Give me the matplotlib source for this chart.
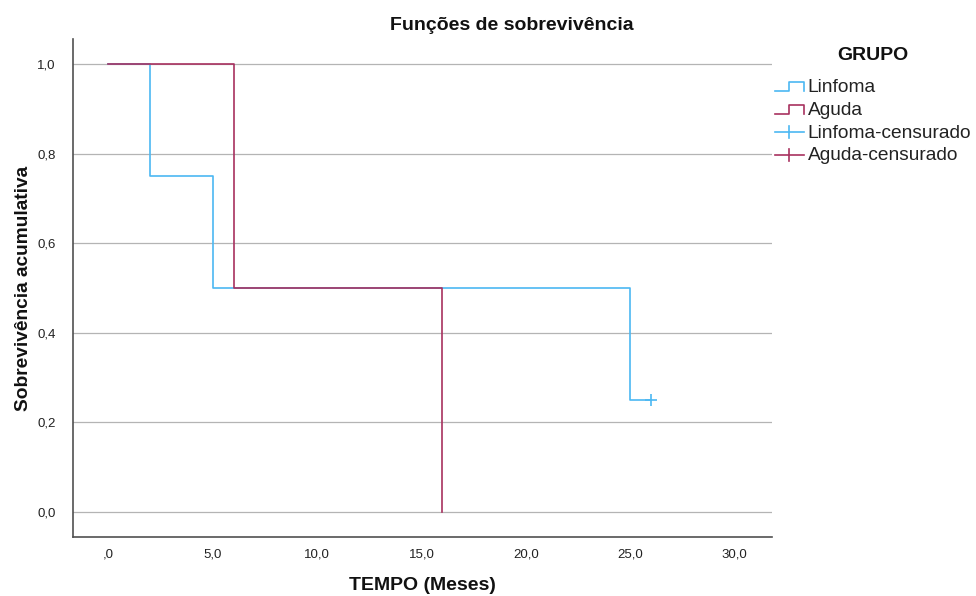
import matplotlib
matplotlib.use("Agg")
import matplotlib.pyplot as plt
from matplotlib.lines import Line2D
from matplotlib.legend_handler import HandlerBase

plt.rcParams['font.family'] = ['Liberation Sans', 'DejaVu Sans']

# Data (Kaplan-Meier steps)
linfoma_t = [0, 2, 5, 25, 26]
linfoma_s = [1.0, 0.75, 0.5, 0.25, 0.25]
linfoma_cens_t = [26]
linfoma_cens_s = [0.25]

aguda_t = [0, 6, 16, 16]
aguda_s = [1.0, 0.5, 0.0, 0.0]

xticks = [0, 5, 10, 15, 20, 25, 30]
xticklabels = [',0', '5,0', '10,0', '15,0', '20,0', '25,0', '30,0']
yticks = [0.0, 0.2, 0.4, 0.6, 0.8, 1.0]
yticklabels = ['0,0', '0,2', '0,4', '0,6', '0,8', '1,0']

c_lin = '#4cb8f2'
c_agu = '#a8315f'

W, H = 976, 596
fig = plt.figure(figsize=(W / 100, H / 100), dpi=100)
ax = fig.add_axes([73 / W, 1 - 537 / H, (772 - 73) / W, (537 - 39) / H])

ax.step(linfoma_t, linfoma_s, where='post', color=c_lin, lw=1.2)
ax.step(aguda_t, aguda_s, where='post', color=c_agu, lw=1.2)
ax.plot(linfoma_cens_t, linfoma_cens_s, ls='none', marker='+', ms=8, mew=1.2, color=c_lin)

ax.set_xlim(-1.7, 31.8)
ax.set_ylim(-0.056, 1.056)
ax.set_xticks(xticks)
ax.set_xticklabels(xticklabels)
ax.set_yticks(yticks)
ax.set_yticklabels(yticklabels)
ax.tick_params(axis='x', length=0, labelsize=9.5, pad=8.5, labelcolor='#222222')
ax.tick_params(axis='y', length=0, labelsize=9.5, pad=12.5, labelcolor='#222222')
ax.grid(axis='y', color='#b4b4b4', lw=0.9)
ax.set_axisbelow(True)
for s in ['top', 'right']:
    ax.spines[s].set_visible(False)
for s in ['left', 'bottom']:
    ax.spines[s].set_color('#505050')
    ax.spines[s].set_linewidth(1.2)

fig.text(512 / W, 1 - 25 / H, 'Funções de sobrevivência', fontsize=14, fontweight='bold',
         ha='center', va='center', color='#111111')
fig.text(422 / W, 1 - 585 / H, 'TEMPO (Meses)', fontsize=14, fontweight='bold',
         ha='center', va='center', color='#111111')
fig.text(24 / W, 1 - 288 / H, 'Sobrevivência acumulativa', fontsize=13.8, fontweight='bold',
         ha='center', va='center', rotation=90, color='#111111')
fig.text(873 / W, 1 - 55 / H, 'GRUPO', fontsize=14, fontweight='bold',
         ha='center', va='center', color='#111111')


class StepHandler(HandlerBase):
    def create_artists(self, legend, orig_handle, xdescent, ydescent, width, height, fontsize, trans):
        x0 = -xdescent
        y0 = -ydescent + height * 0.1
        y1 = -ydescent + height * 0.75
        xs = [x0, x0 + width * 0.5, x0 + width * 0.5, x0 + width, x0 + width]
        ys = [y0, y0, y1, y1, y0]
        l = Line2D(xs, ys, color=orig_handle.get_color(), lw=1.2, transform=trans)
        return [l]


class CensHandler(HandlerBase):
    def create_artists(self, legend, orig_handle, xdescent, ydescent, width, height, fontsize, trans):
        x0 = -xdescent
        ym = -ydescent + height * 0.4
        l = Line2D([x0, x0 + width], [ym, ym], color=orig_handle.get_color(), lw=1.2, transform=trans)
        v = Line2D([x0 + width * 0.5, x0 + width * 0.5], [ym - height * 0.45, ym + height * 0.45],
                   color=orig_handle.get_color(), lw=1.2, transform=trans)
        return [l, v]


h1 = Line2D([], [], color=c_lin)
h2 = Line2D([], [], color=c_agu)
h3 = Line2D([], [], color=c_lin)
h4 = Line2D([], [], color=c_agu)

leg = fig.legend([h1, h2, h3, h4], ['Linfoma', 'Aguda', 'Linfoma-censurado', 'Aguda-censurado'],
                 handler_map={h1: StepHandler(), h2: StepHandler(), h3: CensHandler(), h4: CensHandler()},
                 loc='upper left', bbox_to_anchor=(775 / W, 1 - 79 / H), frameon=False,
                 fontsize=13.8, handlelength=1.5, handletextpad=0.2, labelspacing=0.27,
                 borderaxespad=0, borderpad=0)
for t in leg.get_texts():
    t.set_color('#222222')
fig.savefig('out.png', dpi=100)
